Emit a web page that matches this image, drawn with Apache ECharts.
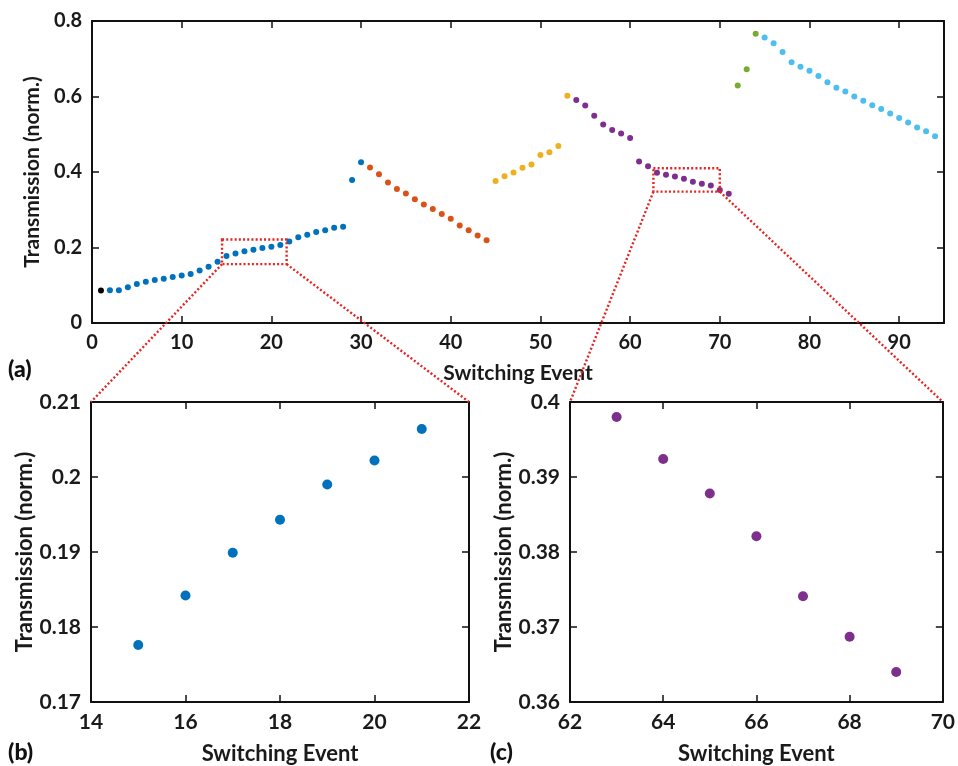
<!DOCTYPE html>
<html><head><meta charset="utf-8">
<script src="https://cdn.jsdelivr.net/npm/echarts@6/dist/echarts.min.js"></script>
<style>html,body{margin:0;padding:0;background:#fff}#c{width:958px;height:766px}</style>
</head><body><div id="c"></div>
<script>
// ---- data ----
const blackX = [1];
const blackY = [0.086];
const blueX = [2,3,4,5,6,7,8,9,10,11,12,13,14,15,16,17,18,19,20,21,22,23,24,25,26,27,28,29,30];
const blueY = [0.087,0.087,0.095,0.103,0.109,0.114,0.117,0.122,0.126,0.130,0.139,0.149,0.162,0.1776,0.1842,0.1899,0.1943,0.1990,0.2022,0.2064,0.216,0.227,0.234,0.241,0.246,0.252,0.255,0.379,0.426];
const orangeX = [31,32,33,34,35,36,37,38,39,40,41,42,43,44];
const orangeY = [0.412,0.394,0.372,0.355,0.343,0.328,0.314,0.302,0.289,0.276,0.258,0.246,0.232,0.219];
const yellowX = [45,46,47,48,49,50,51,52,53];
const yellowY = [0.376,0.389,0.399,0.411,0.420,0.445,0.452,0.469,0.602];
const purpleX = [54,55,56,57,58,59,60,61,62,63,64,65,66,67,68,69,70,71];
const purpleY = [0.591,0.576,0.549,0.526,0.511,0.502,0.490,0.428,0.415,0.398,0.3924,0.3878,0.3821,0.3741,0.3687,0.364,0.352,0.3425];
const greenX = [72,73,74];
const greenY = [0.629,0.672,0.766];
const lightBlueX = [75,76,77,78,79,80,81,82,83,84,85,86,87,88,89,90,91,92,93,94];
const lightBlueY = [0.756,0.741,0.718,0.691,0.679,0.668,0.654,0.638,0.623,0.613,0.600,0.589,0.577,0.567,0.555,0.543,0.531,0.518,0.508,0.495];
const zoomBX = [15,16,17,18,19,20,21];
const zoomBY = [0.1776,0.1842,0.1899,0.1943,0.1990,0.2022,0.2064];
const zoomCX = [63,64,65,66,67,68,69];
const zoomCY = [0.3980,0.3924,0.3878,0.3821,0.3741,0.3687,0.3640];
// zoom windows (data coords in panel a)
const boxB = {x0:14.5, x1:21.7, y0:0.156, y1:0.221};
const boxC = {x0:62.6, x1:70.0, y0:0.348, y1:0.410};
const xLabel = 'Switching Event';
const yLabel = 'Transmission (norm.)';
const panelLabels = ['(a)', '(b)', '(c)'];

const pair = (xs, ys) => xs.map((x, i) => [x, ys[i]]);
const FONT = 'Lato';
const TXT = '#1a1a1a';
const fmt = v => String(parseFloat(v.toFixed(4)));

function axesFor(gi, xr, yr, fs, xGap, yGap) {
  const common = {
    gridIndex: gi, type: 'value',
    splitLine: {show: false},
    axisLine: {show: true, onZero: false, lineStyle: {color: '#111', width: 2}},
    axisTick: {show: true, inside: true, length: 7, lineStyle: {color: '#111', width: 1.5}},
  };
  const xs = [
    Object.assign({}, common, {position: 'bottom', min: xr[0], max: xr[1], interval: xr[2],
      name: xLabel, nameLocation: 'middle', nameGap: xGap,
      nameTextStyle: {fontFamily: FONT, fontWeight: 'bold', fontSize: fs + 1, color: TXT},
      axisLabel: {fontFamily: FONT, fontWeight: 'bold', fontSize: fs, color: TXT, margin: 10, showMaxLabel: xr[3], formatter: fmt}}),
    Object.assign({}, common, {position: 'top', min: xr[0], max: xr[1], interval: xr[2], axisLabel: {show: false}})
  ];
  const ys = [
    Object.assign({}, common, {position: 'left', min: yr[0], max: yr[1], interval: yr[2],
      name: yLabel, nameLocation: 'middle', nameGap: yGap, nameRotate: 90,
      nameTextStyle: {fontFamily: FONT, fontWeight: 'bold', fontSize: fs + 1, color: TXT},
      axisLabel: {fontFamily: FONT, fontWeight: 'bold', fontSize: fs, color: TXT, margin: 10, formatter: fmt}}),
    Object.assign({}, common, {position: 'right', min: yr[0], max: yr[1], interval: yr[2], axisLabel: {show: false}})
  ];
  return {xs, ys};
}

const a = axesFor(0, [0, 95, 10, false], [0, 0.8, 0.2], 20, 40, 39);
const b = axesFor(1, [14, 22, 2, true], [0.17, 0.21, 0.01], 21, 41, 55);
const c = axesFor(2, [62, 70, 2, true], [0.36, 0.40, 0.01], 21, 41, 55);

function sc(name, data, color, xi, yi, size) {
  return {name, type: 'scatter', xAxisIndex: xi, yAxisIndex: yi, data, symbol: 'circle',
    symbolSize: size, itemStyle: {color, opacity: 1}, silent: true, animation: false};
}
const ttl = (t, x, y) => ({text: t, left: x, top: y, padding: 0,
  textStyle: {fontFamily: FONT, fontWeight: 900, fontSize: 23, color: '#111'}});

const chart = echarts.init(document.getElementById('c'), null, {renderer: 'canvas'});
chart.setOption({
  backgroundColor: '#fff',
  animation: false,
  title: [ttl(panelLabels[0], 8, 358), ttl(panelLabels[1], 8, 741), ttl(panelLabels[2], 490, 741)],
  grid: [
    {left: 92, top: 21, width: 852, height: 302},
    {left: 91, top: 402, width: 378, height: 303},
    {left: 570, top: 402, width: 377, height: 303}
  ],
  xAxis: [...a.xs, ...b.xs, ...c.xs],
  yAxis: [...a.ys, ...b.ys, ...c.ys],
  series: [
    sc('black', pair(blackX, blackY), '#000000', 0, 0, 6),
    sc('blue', pair(blueX, blueY), '#0072BD', 0, 0, 6),
    sc('orange', pair(orangeX, orangeY), '#D95319', 0, 0, 6),
    sc('yellow', pair(yellowX, yellowY), '#EDB120', 0, 0, 6),
    sc('purple', pair(purpleX, purpleY), '#7E2F8E', 0, 0, 6),
    sc('green', pair(greenX, greenY), '#77AC30', 0, 0, 6),
    sc('lightblue', pair(lightBlueX, lightBlueY), '#4DBEEE', 0, 0, 6),
    sc('zoomB', pair(zoomBX, zoomBY), '#0072BD', 2, 2, 10),
    sc('zoomC', pair(zoomCX, zoomCY), '#7E2F8E', 4, 4, 10)
  ]
});

// annotations: dotted boxes and connectors placed through the library's coordinate conversion
const P = (gi, v) => chart.convertToPixel({gridIndex: gi}, v);
const red = {stroke: '#e8231f', lineWidth: 2.4, lineDash: [2, 2.2], fill: null};
function boxEl(bx) {
  const p0 = P(0, [bx.x0, bx.y1]), p1 = P(0, [bx.x1, bx.y0]);
  return {type: 'rect', shape: {x: p0[0], y: p0[1], width: p1[0] - p0[0], height: p1[1] - p0[1]}, style: red, z: 100, silent: true};
}
function lineEl(p, q) {
  return {type: 'line', shape: {x1: p[0], y1: p[1], x2: q[0], y2: q[1]}, style: red, z: 100, silent: true};
}
const bTL = P(1, [14, 0.21]), bTR = P(1, [22, 0.21]);
const cTL = P(2, [62, 0.40]), cTR = P(2, [70, 0.40]);
chart.setOption({
  graphic: [
    boxEl(boxB), boxEl(boxC),
    lineEl(P(0, [boxB.x0, boxB.y0]), bTL), lineEl(P(0, [boxB.x1, boxB.y0]), bTR),
    lineEl(P(0, [boxC.x0, boxC.y0]), cTL), lineEl(P(0, [boxC.x1, boxC.y0]), cTR)
  ]
});
</script></body></html>
